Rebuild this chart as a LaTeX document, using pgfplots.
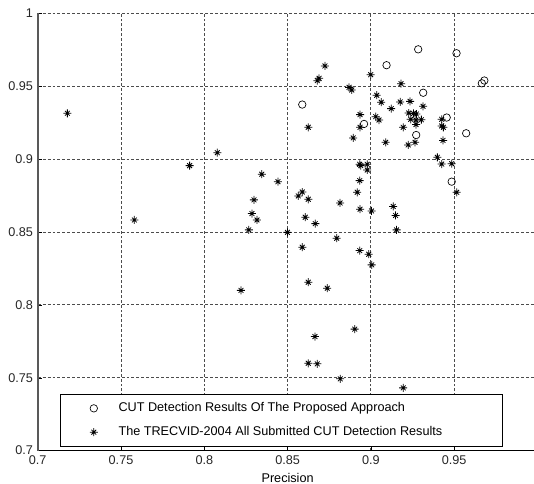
\documentclass[border=0pt]{standalone}
\usepackage{pgfplots}
\pgfplotsset{compat=1.18}
\usepackage{fontspec}
\setmainfont{Liberation Sans}

% Matlab-style '*' marker: a plus with a smaller cross
\pgfdeclareplotmark{mstar}{%
  \pgfpathmoveto{\pgfqpoint{-\pgfplotmarksize}{0pt}}\pgfpathlineto{\pgfqpoint{\pgfplotmarksize}{0pt}}%
  \pgfpathmoveto{\pgfqpoint{0pt}{-\pgfplotmarksize}}\pgfpathlineto{\pgfqpoint{0pt}{\pgfplotmarksize}}%
  \pgfpathmoveto{\pgfqpoint{-.6\pgfplotmarksize}{-.6\pgfplotmarksize}}\pgfpathlineto{\pgfqpoint{.6\pgfplotmarksize}{.6\pgfplotmarksize}}%
  \pgfpathmoveto{\pgfqpoint{-.6\pgfplotmarksize}{.6\pgfplotmarksize}}\pgfpathlineto{\pgfqpoint{.6\pgfplotmarksize}{-.6\pgfplotmarksize}}%
  \pgfusepathqstroke}

\pgfplotsset{
  legmark/.style={legend image code/.code={%
    \path (0pt,0pt) (41pt,0pt);
    \draw[##1] plot coordinates {(24.75pt,0pt)};}}
}

\begin{document}
\begin{tikzpicture}
\begin{axis}[
  name=ax,
  scale only axis,
  width=374.9pt,
  height=328pt,
  xmin=0.7, xmax=1,
  ymin=0.7, ymax=1,
  xtick={0.7,0.75,0.8,0.85,0.9,0.95,1},
  ytick={0.7,0.75,0.8,0.85,0.9,0.95,1},
  axis x line*=bottom,
  axis y line*=left,
  x axis line style={black, line width=0.8pt},
  y axis line style={black!65, line width=1.2pt},
  tick align=inside,
  major tick length=3pt,
  tick style={black},
  grid=major,
  major grid style={black!70, line width=0.6pt, dash pattern=on 2.2pt off 1.5pt},
  xticklabel style={/pgf/number format/fixed, /pgf/number format/precision=2},
  yticklabel style={/pgf/number format/fixed, /pgf/number format/precision=2},
  /pgf/number format/assume math mode=true,
  tick label style={font=\fontsize{9.5}{11}\selectfont, text=black!85},
  label style={font=\fontsize{9.5}{11}\selectfont},
  xlabel={Precision},
  legend cell align=left,
  legend style={
    at={(0.0446,0.0091)},
    anchor=south west,
    draw=black,
    fill=white,
    line width=0.6pt,
    font=\fontsize{9.5}{11}\selectfont,
    row sep=5.5pt,
    inner xsep=0pt,
    inner ysep=4.3pt
  }
]
\addplot[only marks, mark=o, mark size=2.8pt, line width=0.5pt, black, legmark]
  coordinates {
  (0.9284,0.9753) (0.9514,0.9726) (0.9094,0.9644) (0.9666,0.9520)
  (0.9681,0.9539) (0.9314,0.9455) (0.8588,0.9374) (0.8959,0.9241)
  (0.9455,0.9285) (0.9272,0.9165) (0.9572,0.9177) (0.9485,0.8845)
};
\addlegendentry{\makebox[286pt][l]{CUT Detection Results Of The Proposed Approach}}
\addplot[only marks, mark=mstar, mark size=3pt, line width=0.6pt, black, legmark]
  coordinates {
  (0.7178,0.9314) (0.7580,0.8582) (0.7912,0.8955) (0.8078,0.9044)
  (0.8345,0.8896) (0.8298,0.8720) (0.8286,0.8626) (0.8316,0.8582)
  (0.8267,0.8514) (0.8220,0.8099) (0.8724,0.9639) (0.8689,0.9554)
  (0.8678,0.9538) (0.8869,0.9492) (0.8885,0.9474) (0.8999,0.9579)
  (0.9181,0.9517) (0.9035,0.9438) (0.9062,0.9390) (0.9122,0.9346)
  (0.9176,0.9392) (0.9235,0.9396) (0.9313,0.9362) (0.8935,0.9305)
  (0.9029,0.9291) (0.9049,0.9268) (0.8935,0.9218) (0.8624,0.9218)
  (0.8894,0.9145) (0.9089,0.9115) (0.9194,0.9218) (0.9224,0.9097)
  (0.9265,0.9115) (0.9227,0.9316) (0.9256,0.9313) (0.9273,0.9309)
  (0.9239,0.9273) (0.9271,0.9268) (0.9303,0.9270) (0.9271,0.9237)
  (0.9425,0.9273) (0.9425,0.9227) (0.9435,0.9218) (0.9433,0.9128)
  (0.9399,0.9012) (0.9425,0.8966) (0.9485,0.8968) (0.9515,0.8772)
  (0.8933,0.8964) (0.8939,0.8955) (0.8978,0.8964) (0.8978,0.8925)
  (0.8933,0.8852) (0.8918,0.8772) (0.8815,0.8699) (0.8935,0.8656)
  (0.9004,0.8644) (0.9134,0.8675) (0.9148,0.8613) (0.9154,0.8514)
  (0.8442,0.8845) (0.8564,0.8747) (0.8588,0.8774) (0.8624,0.8724)
  (0.8606,0.8601) (0.8666,0.8557) (0.8499,0.8497) (0.8795,0.8457)
  (0.8588,0.8395) (0.8933,0.8372) (0.8987,0.8347) (0.9005,0.8274)
  (0.8624,0.8155) (0.8738,0.8114) (0.8903,0.7833) (0.8664,0.7782)
  (0.8624,0.7599) (0.8678,0.7595) (0.8816,0.7492) (0.9194,0.7430)
};
\addlegendentry{\makebox[286pt][l]{The TRECVID-2004 All Submitted CUT Detection Results}}
\end{axis}
\pgfresetboundingbox
\path ([shift={(-28.3pt,-25pt)}]ax.south west) rectangle ([shift={(-2.6pt,10pt)}]ax.north east);
\end{tikzpicture}
\end{document}
